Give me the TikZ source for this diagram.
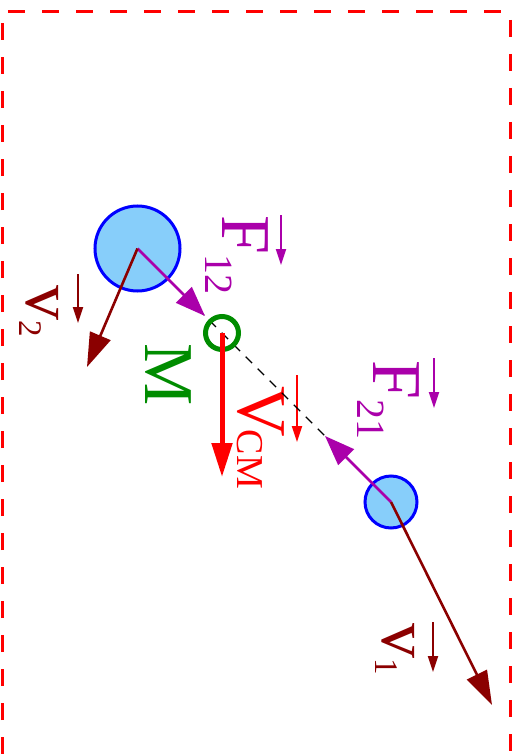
\documentclass[tikz,border=0pt]{standalone}
\usepackage{fontspec}
\setmainfont{Liberation Serif}
\usetikzlibrary{arrows.meta}
\definecolor{vdark}{RGB}{139,0,0}
\definecolor{fpurp}{RGB}{170,0,170}
\definecolor{mgreen}{RGB}{0,140,0}
\definecolor{ballfill}{RGB}{135,206,250}
\tikzset{
  ball/.style={draw=blue, fill=ballfill, line width=3pt},
  cmring/.style={draw=mgreen, line width=5pt},
  velo/.style={-{Triangle[length=34pt,width=22pt]}, line width=2.6pt, vdark},
  force/.style={-{Triangle[length=30pt,width=22pt]}, line width=2.6pt, fpurp},
  vcm/.style={-{Triangle[length=34pt,width=20pt]}, line width=5pt, red},
  vecarr/.style={-{Triangle[length=16pt,width=10pt]}, line width=1.8pt},
  lab/.style={rotate=-90, anchor=base west, inner sep=0pt,
    font=\fontsize{70}{70}\selectfont},
  frame/.style={draw=red, line width=3pt, dash pattern=on 17pt off 17pt},
  joinline/.style={black, line width=1.4pt, dash pattern=on 9pt off 8pt}
}
\newcommand{\labsub}[3]{\raisebox{-#1pt}{\fontsize{#2}{#2}\selectfont #3}}

\begin{document}
\begin{tikzpicture}[x=1pt, y=-1pt]
  \useasboundingbox (0,0) rectangle (521,754);

  % open frame
  \draw[frame] (2,754) -- (2,12) -- (510,12) -- (510,754);

  % body and centre of mass positions
  \coordinate (big) at (137.5,248.5);
  \coordinate (small) at (391,502);
  \coordinate (cm) at (222,333);
  \coordinate (v2tip) at (87,367);
  \coordinate (v1tip) at (492,705);
  \coordinate (f12tip) at (205,316);
  \coordinate (f21tip) at (325,436);
  \coordinate (vcmtip) at (222,477);

  % labels
  \node[lab, fpurp] (lf12) at (222,215) {F\labsub{17}{40}{12}};
  \node[lab, fpurp] (lf21) at (373,360) {F\labsub{16}{40}{21}};
  \node[lab, red] (lvcm) at (238,386) {V\kern-7pt\labsub{1}{38}{CM}};
  \node[lab, vdark] (lv1) at (382,623) {v\labsub{7}{33}{1}};
  \node[lab, vdark] (lv2) at (27,285) {v\labsub{7}{33}{2}};
  \node[lab, mgreen] (lm) at (145,343) {M};

  % vector marks on labels
  \foreach \x/\ya/\yb/\col in {281/215/265/fpurp, 434/358/408/fpurp,
                               297/375/442/red, 433/622/672/vdark,
                               78/274/323/vdark}{
    \draw[vecarr, \col] (\x,\ya) -- (\x,\yb);
  }

  % line joining the bodies
  \draw[joinline] (big) -- (small);

  % bodies
  \node[ball, circle, minimum size=85pt, inner sep=0pt] (b2) at (big) {};
  \node[ball, circle, minimum size=52pt, inner sep=0pt] (b1) at (small) {};
  \draw[cmring] (cm) circle (16.5pt);

  % forces and velocities
  \draw[force] (b2.center) -- (f12tip);
  \draw[force] (b1.center) -- (f21tip);
  \draw[velo] (b2.center) -- (v2tip);
  \draw[velo] (b1.center) -- (v1tip);
  \draw[vcm] (cm) -- (vcmtip);
\end{tikzpicture}
\end{document}
